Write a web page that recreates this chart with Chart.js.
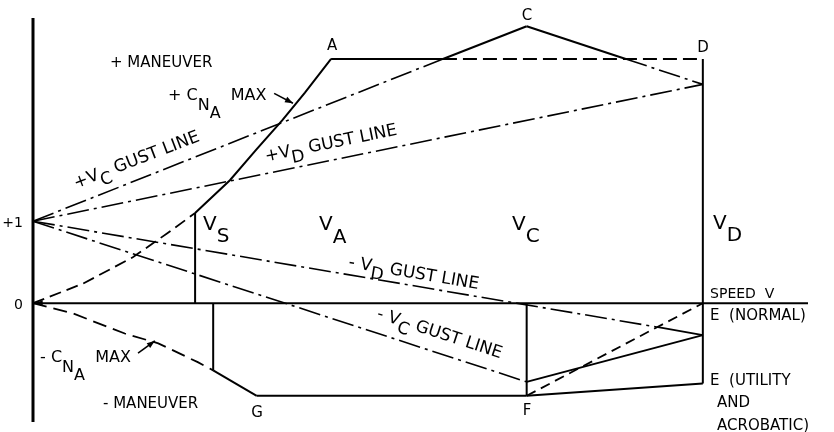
<!DOCTYPE html>
<html>
<head>
<meta charset="utf-8">
<script src="https://cdn.jsdelivr.net/npm/chart.js@4"></script>
<style>
html,body{margin:0;padding:0;background:#fff;}
canvas{display:block;}
</style>
</head>
<body>
<canvas id="c" width="834" height="432"></canvas>
<script>
// ---- data: speed V (V_D = 100) and load factor n ----
const vS = 24.2, vSneg = 26.9, vG = 33.4, vA = 44.5, vC = 73.7, vD = 100, vEnd = 115.7;
const nLimitPos = 2.98, nC = 3.38, nDgust = 2.67, nVsTop = 1.10, nVsNegBottom = -0.82;
const nEnormal = -0.39, nEutil = -0.98, nF = -1.13, nFgust = -0.96;
const vCross1 = 61.2, vCross2 = 88.5, vCross3 = 93.1, nCross3 = -0.29;
const nMin = -1.45, nMax = 3.48;

const posCurveDashedV = [0, 7.5, 14.9, 20.0, 24.2];
const posCurveDashedN = [0, 0.24, 0.56, 0.85, 1.10];
const posCurveSolidV  = [24.2, 29.4, 33.3, 37.2, 40.6, 44.5];
const posCurveSolidN  = [1.10, 1.50, 1.87, 2.23, 2.57, 2.98];
const negCurveDashedV = [0, 5.8, 13.7, 18.7, 24.6, 26.9];
const negCurveDashedN = [0, -0.12, -0.37, -0.49, -0.72, -0.82];
const negCurveSolidV  = [26.9, 33.4];
const negCurveSolidN  = [-0.82, -1.13];

const tickValues = [0, 1];
const tickLabels = ['0', '+1'];

// ---- helpers ----
const pts = (vs, ns) => vs.map((v, i) => ({x: v, y: ns[i]}));
const SOLID = [], DASH = [12, 6], DASHDOT = [22, 5, 3, 5];
function seg(vs, ns, width, dash) {
  return {data: pts(vs, ns), borderColor: '#000', borderWidth: width, borderDash: dash,
          showLine: true, pointRadius: 0, fill: false, clip: false, tension: 0};
}

const datasets = [
  // axes
  seg([0, vEnd], [0, 0], 2, SOLID),
  seg([0, 0], [nMin, nMax], 3, SOLID),
  // +C_NA max curve
  seg(posCurveDashedV, posCurveDashedN, 1.8, DASH),
  seg(posCurveSolidV, posCurveSolidN, 2, SOLID),
  // Vs line
  seg([vS, vS], [0, nVsTop], 2, SOLID),
  // positive limit line
  seg([vA, vCross1], [nLimitPos, nLimitPos], 2, SOLID),
  seg([vCross1, vD], [nLimitPos, nLimitPos], 2, [14, 6]),
  // VD line
  seg([vD, vD], [nLimitPos, nEutil], 2, SOLID),
  // +VC gust
  seg([0, vCross1], [1, nLimitPos], 1.6, DASHDOT),
  seg([vCross1, vC], [nLimitPos, nC], 2, SOLID),
  // C -> D gust
  seg([vC, vCross2], [nC, nLimitPos], 2, SOLID),
  seg([vCross2, vD], [nLimitPos, nDgust], 1.6, DASHDOT),
  // +VD gust
  seg([0, vD], [1, nDgust], 1.6, DASHDOT),
  // -VD gust
  seg([0, vCross3], [1, nCross3], 1.6, DASHDOT),
  seg([vCross3, vD], [nCross3, nEnormal], 1.8, SOLID),
  // -VC gust
  seg([0, vC], [1, nFgust], 1.6, DASHDOT),
  seg([vC, vD], [nFgust, nEnormal], 2, SOLID),
  // F -> VD at n=0 (dashed)
  seg([vC, vD], [nF, 0], 1.8, [10, 6]),
  // VC vertical
  seg([vC, vC], [0, nF], 2, SOLID),
  // negative
  seg(negCurveDashedV, negCurveDashedN, 1.8, [14, 7]),
  seg(negCurveSolidV, negCurveSolidN, 2, SOLID),
  seg([vSneg, vSneg], [0, nVsNegBottom], 2, SOLID),
  seg([vG, vC], [nF, nF], 2, SOLID),
  seg([vC, vD], [nF, nEutil], 2, SOLID),
];

// ---- text annotations (data coordinates) ----
const FONT = '"DejaVu Sans", sans-serif';
const annotations = [
  {v: 11.5, n: 2.88, size: 15, parts: [{t: '+ MANEUVER'}]},
  {v: 20.16, n: 2.48, size: 16, parts: [{t: '+ C'}, {t: 'N', dy: 10}, {t: 'A', dy: 18}, {t: '  MAX'}]},
  {v: 1.05, n: -0.72, size: 16, parts: [{t: '- C'}, {t: 'N', dy: 10}, {t: 'A', dy: 18}, {t: '  MAX'}]},
  {v: 10.45, n: -1.28, size: 15, parts: [{t: '- MANEUVER'}]},
  {v: 6.42, n: 1.40, size: 17, rot: -21, parts: [{t: '+V'}, {t: 'C', dy: 7}, {t: ' GUST LINE'}]},
  {v: 34.79, n: 1.73, size: 17, rot: -11.5, parts: [{t: '+V'}, {t: 'D', dy: 7}, {t: ' GUST LINE'}]},
  {v: 47.03, n: 0.44, size: 17, rot: 9.6, parts: [{t: '- V'}, {t: 'D', dy: 7}, {t: ' GUST LINE'}]},
  {v: 51.21, n: -0.18, size: 17, rot: 18, parts: [{t: '- V'}, {t: 'C', dy: 7}, {t: ' GUST LINE'}]},
  {v: 25.38, n: 0.89, size: 20, parts: [{t: 'V'}, {t: 'S', dy: 12}]},
  {v: 42.70, n: 0.89, size: 20, parts: [{t: 'V'}, {t: 'A', dy: 13}]},
  {v: 71.51, n: 0.89, size: 20, parts: [{t: 'V'}, {t: 'C', dy: 12}]},
  {v: 101.52, n: 0.91, size: 20, parts: [{t: 'V'}, {t: 'D', dy: 12}]},
  {v: 101.08, n: 0.06, size: 14, parts: [{t: 'SPEED  V'}]},
  {v: 101.08, n: -0.21, size: 15, parts: [{t: 'E  (NORMAL)'}]},
  {v: 101.08, n: -1.00, size: 15, parts: [{t: 'E  (UTILITY'}]},
  {v: 102.12, n: -1.27, size: 15, parts: [{t: 'AND'}]},
  {v: 102.12, n: -1.55, size: 15, parts: [{t: 'ACROBATIC)'}]},
  {v: 44.64, n: 3.09, size: 15, align: 'center', parts: [{t: 'A'}]},
  {v: 73.75, n: 3.45, size: 15, align: 'center', parts: [{t: 'C'}]},
  {v: 100.03, n: 3.06, size: 15, align: 'center', parts: [{t: 'D'}]},
  {v: 33.44, n: -1.39, size: 15, align: 'center', parts: [{t: 'G'}]},
  {v: 73.75, n: -1.37, size: 15, align: 'center', parts: [{t: 'F'}]},
];
const arrows = [
  {from: [36.0, 2.56], to: [38.81, 2.44]},
  {from: [15.68, -0.61], to: [18.2, -0.46]},
  {from: [1.3, 0], to: [0.25, 0]},
];

const textPlugin = {
  id: 'texts',
  afterDatasetsDraw(chart) {
    const {ctx, scales: {x, y}} = chart;
    ctx.save();
    ctx.fillStyle = '#000';
    ctx.strokeStyle = '#000';
    // y tick labels
    ctx.font = '14px ' + FONT;
    ctx.textAlign = 'right';
    ctx.textBaseline = 'middle';
    tickValues.forEach((v, i) => ctx.fillText(tickLabels[i], x.getPixelForValue(0) - 10, y.getPixelForValue(v) + 2));
    annotations.forEach(l => {
      ctx.save();
      ctx.translate(x.getPixelForValue(l.v), y.getPixelForValue(l.n));
      ctx.rotate((l.rot || 0) * Math.PI / 180);
      ctx.font = l.size + 'px ' + FONT;
      ctx.textBaseline = 'alphabetic';
      ctx.textAlign = 'left';
      let total = 0;
      l.parts.forEach(p => total += ctx.measureText(p.t).width);
      let cx = l.align === 'center' ? -total / 2 : 0;
      l.parts.forEach(p => {
        ctx.fillText(p.t, cx, p.dy || 0);
        cx += ctx.measureText(p.t).width;
      });
      ctx.restore();
    });
    arrows.forEach(a => {
      const x0 = x.getPixelForValue(a.from[0]), y0 = y.getPixelForValue(a.from[1]);
      const x1 = x.getPixelForValue(a.to[0]), y1 = y.getPixelForValue(a.to[1]);
      const ang = Math.atan2(y1 - y0, x1 - x0);
      ctx.lineWidth = 1.6;
      ctx.setLineDash([]);
      ctx.beginPath(); ctx.moveTo(x0, y0); ctx.lineTo(x1, y1); ctx.stroke();
      const L = 8, W = 3;
      ctx.beginPath();
      ctx.moveTo(x1, y1);
      ctx.lineTo(x1 - L * Math.cos(ang) + W * Math.sin(ang), y1 - L * Math.sin(ang) - W * Math.cos(ang));
      ctx.lineTo(x1 - L * Math.cos(ang) - W * Math.sin(ang), y1 - L * Math.sin(ang) + W * Math.cos(ang));
      ctx.closePath(); ctx.fill();
    });
    ctx.restore();
  }
};

new Chart(document.getElementById('c'), {
  type: 'scatter',
  data: {datasets},
  options: {
    responsive: false,
    animation: false,
    devicePixelRatio: 1,
    layout: {padding: {left: 33, top: 18, right: 26, bottom: 10}},
    plugins: {legend: {display: false}, tooltip: {enabled: false}},
    scales: {
      x: {type: 'linear', min: 0, max: vEnd, display: false},
      y: {type: 'linear', min: nMin, max: nMax, display: false}
    }
  },
  plugins: [textPlugin]
});
</script>
</body>
</html>
